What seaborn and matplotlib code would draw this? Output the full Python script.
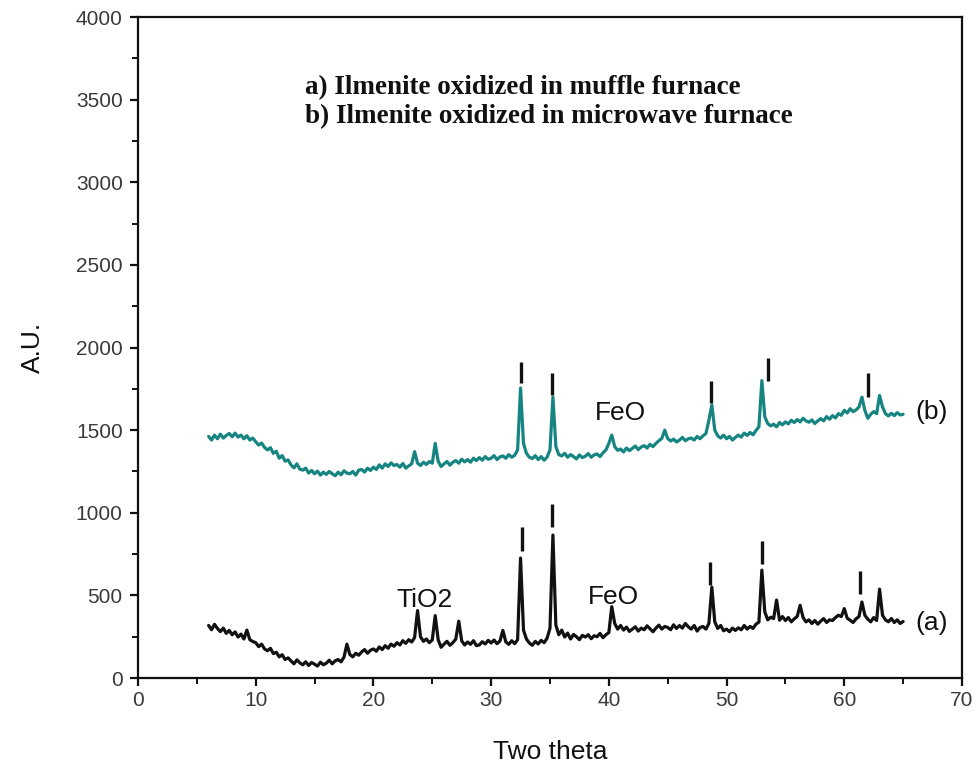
import numpy as np
import pandas as pd
import matplotlib
matplotlib.use("Agg")
import matplotlib.pyplot as plt
import seaborn as sns

# ---- data ----
two_theta = np.arange(6.0, 65.001, 0.25)

intensity_a = [
    318, 292, 325, 300,   # 6
    281, 302, 270, 288,   # 7
    262, 279, 248, 266,   # 8
    236, 290, 232, 221,   # 9
    214, 190, 205, 176,   # 10
    165, 180, 148, 156,   # 11
    128, 141, 112, 122,   # 12
    104, 86, 110, 92,     # 13
    80, 98, 76, 94,       # 14
    84, 72, 96, 80,       # 15
    90, 108, 86, 104,     # 16
    112, 98, 126, 205,    # 17
    142, 128, 150, 138,   # 18
    158, 172, 150, 168,   # 19
    176, 162, 188, 172,   # 20
    196, 180, 205, 192,   # 21
    214, 200, 226, 210,   # 22
    232, 218, 245, 408,   # 23
    250, 222, 236, 214,   # 24
    230, 378, 232, 186,   # 25
    205, 222, 198, 214,   # 26
    236, 344, 225, 200,   # 27
    218, 204, 226, 196,   # 28
    200, 220, 206, 228,   # 29
    212, 230, 208, 224,   # 30
    288, 218, 204, 226,   # 31
    208, 232, 726, 290,   # 32
    236, 212, 198, 222,   # 33
    206, 228, 214, 240,   # 34
    300, 865, 320, 262,   # 35
    290, 248, 272, 236,   # 36
    264, 250, 232, 258,   # 37
    248, 262, 238, 256,   # 38
    250, 270, 244, 262,   # 39
    275, 432, 330, 296,   # 40
    318, 290, 308, 282,   # 41
    296, 310, 284, 302,   # 42
    292, 316, 298, 280,   # 43
    302, 320, 296, 312,   # 44
    306, 292, 322, 300,   # 45
    318, 302, 330, 310,   # 46
    296, 318, 284, 306,   # 47
    312, 296, 330, 550,   # 48
    340, 300, 318, 286,   # 49
    296, 280, 302, 288,   # 50
    304, 292, 318, 296,   # 51
    312, 300, 326, 338,   # 52
    653, 400, 352, 368,   # 53
    360, 472, 350, 372,   # 54
    348, 366, 340, 358,   # 55
    372, 440, 366, 340,   # 56
    352, 330, 348, 326,   # 57
    344, 360, 336, 352,   # 58
    348, 366, 380, 372,   # 59
    420, 362, 350, 336,   # 60
    358, 372, 460, 380,   # 61
    356, 340, 366, 348,   # 62
    538, 380, 352, 340,   # 63
    360, 336, 352, 330,   # 64
    342,                  # 65
]

intensity_b = [
    1462, 1440, 1470, 1448,   # 6
    1476, 1452, 1468, 1480,   # 7
    1460, 1482, 1458, 1470,   # 8
    1448, 1466, 1440, 1452,   # 9
    1430, 1410, 1422, 1396,   # 10
    1380, 1394, 1360, 1372,   # 11
    1330, 1346, 1312, 1320,   # 12
    1290, 1272, 1296, 1264,   # 13
    1258, 1270, 1240, 1256,   # 14
    1236, 1252, 1228, 1246,   # 15
    1232, 1250, 1236, 1224,   # 16
    1246, 1230, 1254, 1240,   # 17
    1236, 1250, 1228, 1258,   # 18
    1262, 1246, 1270, 1256,   # 19
    1276, 1262, 1290, 1270,   # 20
    1296, 1280, 1302, 1286,   # 21
    1292, 1276, 1298, 1270,   # 22
    1284, 1296, 1370, 1300,   # 23
    1286, 1306, 1292, 1310,   # 24
    1300, 1420, 1312, 1280,   # 25
    1296, 1310, 1288, 1306,   # 26
    1316, 1300, 1324, 1308,   # 27
    1322, 1306, 1330, 1316,   # 28
    1334, 1318, 1340, 1324,   # 29
    1330, 1346, 1322, 1338,   # 30
    1344, 1330, 1352, 1336,   # 31
    1348, 1380, 1755, 1420,   # 32
    1360, 1336, 1328, 1346,   # 33
    1322, 1340, 1318, 1336,   # 34
    1380, 1700, 1400, 1352,   # 35
    1344, 1360, 1336, 1352,   # 36
    1340, 1326, 1350, 1334,   # 37
    1342, 1358, 1336, 1350,   # 38
    1356, 1340, 1362, 1380,   # 39
    1420, 1470, 1400, 1378,   # 40
    1386, 1368, 1392, 1376,   # 41
    1390, 1404, 1382, 1398,   # 42
    1406, 1392, 1414, 1400,   # 43
    1420, 1436, 1450, 1500,   # 44
    1450, 1434, 1446, 1428,   # 45
    1440, 1456, 1436, 1448,   # 46
    1452, 1440, 1462, 1448,   # 47
    1466, 1480, 1560, 1652,   # 48
    1500, 1466, 1452, 1470,   # 49
    1448, 1462, 1440, 1456,   # 50
    1470, 1458, 1482, 1468,   # 51
    1486, 1472, 1498, 1520,   # 52
    1800, 1580, 1540, 1526,   # 53
    1536, 1520, 1546, 1532,   # 54
    1550, 1538, 1560, 1546,   # 55
    1564, 1550, 1572, 1556,   # 56
    1548, 1562, 1540, 1556,   # 57
    1570, 1556, 1582, 1566,   # 58
    1588, 1574, 1600, 1590,   # 59
    1620, 1604, 1630, 1612,   # 60
    1622, 1640, 1700, 1620,   # 61
    1572, 1596, 1612, 1600,   # 62
    1710, 1640, 1600, 1586,   # 63
    1602, 1588, 1606, 1592,   # 64
    1596,                     # 65
]

# peak marker bars ("|") : position, bottom, top
marks_a_x = [32.6, 35.2, 48.6, 53.0, 61.3]
marks_a_lo = [770, 915, 565, 690, 508]
marks_a_hi = [912, 1055, 702, 828, 646]
marks_b_x = [32.5, 35.2, 48.7, 53.5, 62.0]
marks_b_lo = [1786, 1712, 1665, 1797, 1700]
marks_b_hi = [1912, 1848, 1797, 1936, 1845]

legend_lines = ["a) Ilmenite oxidized in muffle furnace",
                "b) Ilmenite oxidized in microwave furnace"]

df = pd.DataFrame({
    "theta": np.concatenate([two_theta, two_theta]),
    "au": intensity_a + intensity_b,
    "sample": ["a"] * len(two_theta) + ["b"] * len(two_theta),
})

sns.set_theme(style="ticks")
plt.rcParams["font.family"] = ["Liberation Sans", "DejaVu Sans"]

fig = plt.figure(figsize=(9.8, 7.74), dpi=100)
ax = fig.add_axes([0.1408, 0.124, 0.8408, 0.854])

sns.lineplot(data=df, x="theta", y="au", hue="sample",
             palette={"a": "#111111", "b": "#168582"},
             linewidth=2.3, legend=False, ax=ax, estimator=None, sort=False)

ax.vlines(marks_a_x, marks_a_lo, marks_a_hi, color="#111111", linewidth=2.4)
ax.vlines(marks_b_x, marks_b_lo, marks_b_hi, color="#111111", linewidth=2.4)

ax.set_xlim(0, 70)
ax.set_ylim(0, 4000)
ax.set_xticks(np.arange(0, 71, 10))
ax.set_xticks(np.arange(5, 70, 10), minor=True)
ax.set_yticks(np.arange(0, 4001, 500))
ax.set_yticks(np.arange(250, 4000, 500), minor=True)

for s in ax.spines.values():
    s.set_linewidth(1.6)
    s.set_color("#111111")
ax.tick_params(axis="both", which="major", direction="out", length=6,
               width=1.6, labelsize=15, labelcolor="#3a3a3a", color="#111111")
ax.tick_params(axis="y", which="major", pad=5)
ax.tick_params(axis="x", which="major", pad=3)
ax.tick_params(axis="both", which="minor", direction="out", length=4,
               width=1.4, color="#111111")

ax.set_xlabel("Two theta", fontsize=19, color="#111111", labelpad=22)
ax.set_ylabel("A.U.", fontsize=19, color="#111111", labelpad=22)

ax.text(67.4, 1610, "(b)", fontsize=19, ha="center", va="center", color="#111111")
ax.text(67.4, 333, "(a)", fontsize=19, ha="center", va="center", color="#111111")
ax.text(41.0, 1603, "FeO", fontsize=19, ha="center", va="center", color="#111111")
ax.text(40.4, 490, "FeO", fontsize=19, ha="center", va="center", color="#111111")
ax.text(24.3, 472, "TiO2", fontsize=19, ha="center", va="center", color="#111111")

ax.text(14.2, 3570, legend_lines[0], fontsize=19.5, fontweight="bold",
        family=["Liberation Serif", "DejaVu Serif"], ha="left", va="center", color="#111111")
ax.text(14.2, 3400, legend_lines[1], fontsize=19.5, fontweight="bold",
        family=["Liberation Serif", "DejaVu Serif"], ha="left", va="center", color="#111111")

fig.savefig("out.png", dpi=100)
